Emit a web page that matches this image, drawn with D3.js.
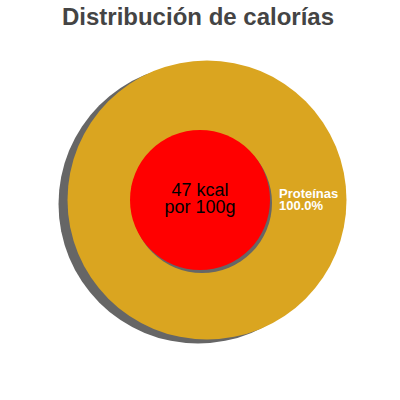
<!DOCTYPE html>
<html>
<head>
<meta charset="utf-8">
<script src="https://cdn.jsdelivr.net/npm/d3@7"></script>
<style>
  body { margin: 0; background: #fff; }
  svg { font-family: "Liberation Sans", Arial, sans-serif; }
</style>
</head>
<body>
<div class="canvas"></div>
<script>
// data
const categories = ['Proteínas'];
const values = [100];
const colors = ['#DAA520'];
const kcalLabel = ['47 kcal', 'por 100g'];
const title = 'Distribución de calorías';

const width = 400, height = 400;

const svg = d3.select('.canvas')
    .append('svg')
    .attr('width', width)
    .attr('height', height);

svg.append('text')
    .attr('x', 198)
    .attr('y', 25)
    .attr('text-anchor', 'middle')
    .attr('font-size', '24px')
    .attr('font-weight', 'bold')
    .attr('fill', '#444')
    .text(title);

const data = categories.map((c, i) => ({name: c, value: values[i], color: colors[i]}));
const total = d3.sum(values);

const pie = d3.pie().value(d => d.value).sort(null);
const outerR = 139.5;
const arc = d3.arc().innerRadius(0).outerRadius(outerR);

// pie group
const graph = svg.append('g')
    .attr('transform', 'translate(207,200)');

// shadow of the pie
graph.append('g')
    .attr('transform', 'translate(-9,4)')
    .selectAll('path')
    .data(pie(data))
    .enter()
    .append('path')
    .attr('d', arc)
    .attr('fill', '#666');

graph.selectAll('path.slice')
    .data(pie(data))
    .enter()
    .append('path')
    .attr('class', 'slice')
    .attr('d', arc)
    .attr('fill', d => d.data.color);

// labels to the right of the hole
const labelArc = d3.arc().innerRadius(72).outerRadius(72);
const labels = graph.selectAll('text.lbl')
    .data(pie(data))
    .enter()
    .append('text')
    .attr('class', 'lbl')
    .attr('transform', d => {
        const c = labelArc.centroid({startAngle: 0, endAngle: Math.PI});
        return `translate(${c[0]},${c[1]})`;
    })
    .attr('fill', '#fff')
    .attr('font-size', '13px')
    .attr('font-weight', 'bold');
labels.append('tspan').attr('x', 0).attr('y', -2).text(d => d.data.name);
labels.append('tspan').attr('x', 0).attr('y', 10)
    .text(d => (d.value / total * 100).toFixed(1) + '%');

// centre circle
const center = svg.append('g').attr('transform', 'translate(200,200)');
center.append('circle').attr('cx', 2).attr('cy', 3).attr('r', 70).attr('fill', '#666');
center.append('circle').attr('r', 70).attr('fill', '#ff0000');
center.selectAll('text.kcal')
    .data(kcalLabel)
    .enter()
    .append('text')
    .attr('class', 'kcal')
    .attr('text-anchor', 'middle')
    .attr('y', (d, i) => -4 + i * 17)
    .attr('font-size', '18px')
    .attr('fill', '#000')
    .text(d => d);
</script>
</body>
</html>
